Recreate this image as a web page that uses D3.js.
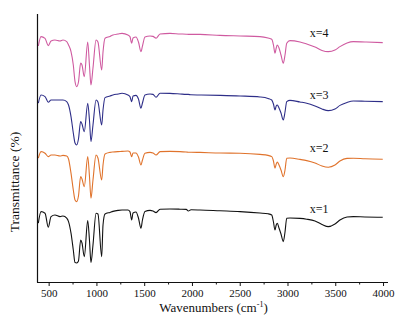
<!DOCTYPE html>
<html>
<head>
<meta charset="utf-8">
<script src="https://cdn.jsdelivr.net/npm/d3@7"></script>
<style>
  html, body { margin: 0; padding: 0; background: #fff; }
  svg { display: block; }
  svg text { font-family: 'Liberation Serif', 'Times New Roman', Times, serif !important; fill: #111; }
</style>
</head>
<body>
<svg id="chart" width="402" height="333"></svg>
<script>
// Wavenumbers (cm-1), shared by all spectra
const wavenumbers = [392,420,462,496,525,566,619,650,689,708,734,758,776,794,812,835,849,873,909,927,943,964,996,1016,1055,1069,1090,1142,1173,1226,1268,1330,1351,1369,1383,1414,1440,1466,1482,1508,1561,1592,1624,1666,1770,1875,1940,1962,1990,2084,2293,2503,2712,2796,2835,2853,2869,2882,2893,2911,2932,2956,2974,2992,3026,3131,3201,3288,3361,3427,3497,3549,3623,3689,3811,3997];

// Transmittance (offset, arbitrary units) for each sample
const seriesX4 = [118,122.7,121.8,118.2,120.5,121,120.5,121,120.2,118.5,115.2,108.5,100.2,97.7,100,109.5,108.5,102.7,120,108.5,98.5,107,121,120,106,115,121.9,122.8,123.5,124,124.3,123.5,122.7,119.4,122,122.5,120,115.2,118,122.5,123,122.8,121.9,124,124.3,124,123.9,123.8,123.8,123.8,123.3,123,122.7,122,121.4,118.5,114.4,117,118.5,117,113.5,109.4,113.5,119.4,120.7,120,119,117.5,115.8,115.2,116,117.7,119.5,120.2,120,119.7];
const seriesX3 = [89.4,93.5,92.7,89.9,91,91,91,91,90.2,88.5,82.7,74.5,69.5,68.5,71.5,80.2,79,75.2,89.4,81,70.2,78.5,91,90,78.5,86,92.2,93,93.5,94,94.4,93.5,92.7,90.2,93,93.3,91.5,86.9,89.5,93.5,94,93.8,92.4,94.4,94.3,94,93.8,93.8,93.6,93.5,93.3,93,92.5,91.8,91,89,86,88,88.5,87,84.5,81,85,90.2,90.8,90,89.4,88,86.5,85.7,86.5,88.3,89.8,90.5,90.4,90.2];
const seriesX2 = [61.9,65.2,64.4,62.7,63.5,63.5,63,63.3,63,61.5,54.4,46,41,40.2,43,52.7,51.5,47.7,62.7,53,41.9,51,63.5,62,51,58.5,64,64.8,65,65.2,65.3,65.5,65,62.7,64.5,64.5,62.5,58.5,61,64.4,64.8,64.5,63.5,65.2,65.3,65.2,65,64.9,64.9,64.8,64.5,64.4,63.8,63.3,62.7,60.5,56.9,59,60,58.5,56,52.7,56,61.9,62,61.3,60.7,59.5,58,57.4,58.5,60.5,61.8,61.9,61.6,61.4];
const seriesX1 = [29.4,35.2,34.4,27.4,32.7,33.5,32.7,33,31.9,30.2,24.4,16,9.7,9.5,10.5,21,19.5,12.7,30.7,21,9.7,18.5,34.4,34,12.7,28.5,34,34.8,35.3,35.8,36,36,35.2,31,34.5,35,32,26.9,31,35.2,35.8,35.5,34.7,36.4,36.5,36.4,36.3,35.5,36.1,36,35.6,35.2,34.5,34.1,33.5,30,26,28.5,29.4,27,24,20.2,25,31.9,32,31.8,31.4,30.5,28.8,27.7,29,31,32.5,32.7,32.5,32.4];

const seriesNames = ["x=4", "x=3", "x=2", "x=1"];
const seriesColors = ["#cf5aa0", "#2e2e88", "#e0732c", "#111111"];
const labelWavenumber = 3330;
const labelLevels = [122.5, 91.5, 65, 34.5];

const xTicks = [500,1000,1500,2000,2500,3000,3500,4000];
const xMinorTicks = [750,1250,1750,2250,2750,3250,3750];

const allSeries = [seriesX4, seriesX3, seriesX2, seriesX1];

const FONT = "'Liberation Serif', 'Times New Roman', Times, serif";
const svg = d3.select("#chart");
const mLeft = 37, mRight = 388, mTop = 14, mBottom = 282;

const x = d3.scaleLinear().domain([378, 4052]).range([mLeft, mRight]);
const y = d3.scaleLinear().domain([0, 135]).range([mBottom, 12]);

const line = d3.line()
  .x((d, i) => x(wavenumbers[i]))
  .y(d => y(d))
  .curve(d3.curveMonotoneX);

svg.append("g").selectAll("path")
  .data(allSeries)
  .join("path")
  .attr("d", d => line(d))
  .attr("fill", "none")
  .attr("stroke", (d, i) => seriesColors[i])
  .attr("stroke-width", 1.1)
  .attr("stroke-linejoin", "round");

// labels
svg.append("g").selectAll("text")
  .data(seriesNames)
  .join("text")
  .attr("x", x(labelWavenumber))
  .attr("y", (d, i) => y(labelLevels[i]))
  .attr("text-anchor", "middle")
  .attr("font-family", FONT)
  .attr("font-size", 12)
  .text(d => d);

// x axis
const xAxis = d3.axisBottom(x).tickValues(xTicks).tickSize(4).tickPadding(3).tickFormat(d3.format("d"));
const gx = svg.append("g").attr("transform", `translate(0,${mBottom})`).call(xAxis);
gx.attr("font-family", FONT);
gx.select(".domain").attr("d", `M${mLeft},0.5H${mRight}`).attr("stroke", "#111").attr("stroke-width", 1.2);
gx.selectAll(".tick line").attr("stroke", "#111");
gx.selectAll(".tick text").attr("font-family", FONT).attr("font-size", 11).attr("fill", "#111");

const xMinor = d3.axisBottom(x).tickValues(xMinorTicks).tickSize(2.5).tickFormat("");
const gxm = svg.append("g").attr("transform", `translate(0,${mBottom})`).call(xMinor);
gxm.select(".domain").remove();
gxm.selectAll(".tick line").attr("stroke", "#111");

// y axis line (no ticks)
const yAxis = d3.axisLeft(y).tickValues([]).tickSizeOuter(0);
const gy = svg.append("g").attr("transform", `translate(${mLeft},0)`).call(yAxis);
gy.select(".domain").attr("d", `M0.5,${mTop}V${mBottom + 0.5}`).attr("stroke", "#111").attr("stroke-width", 1.2);

// axis titles
const xt = svg.append("text")
  .attr("x", (mLeft + mRight) / 2 + 1)
  .attr("y", 312)
  .attr("text-anchor", "middle")
  .attr("font-family", FONT)
  .attr("font-size", 13);
xt.append("tspan").text("Wavenumbers (cm");
xt.append("tspan").attr("font-size", 8).attr("dy", -5).text("-1");
xt.append("tspan").attr("dy", 5).text(")");

svg.append("text")
  .attr("transform", `translate(19,${(mTop + mBottom) / 2 + 34}) rotate(-90)`)
  .attr("text-anchor", "middle")
  .attr("font-family", FONT)
  .attr("font-size", 13.5)
  .text("Transmittance (%)");
</script>
</body>
</html>
